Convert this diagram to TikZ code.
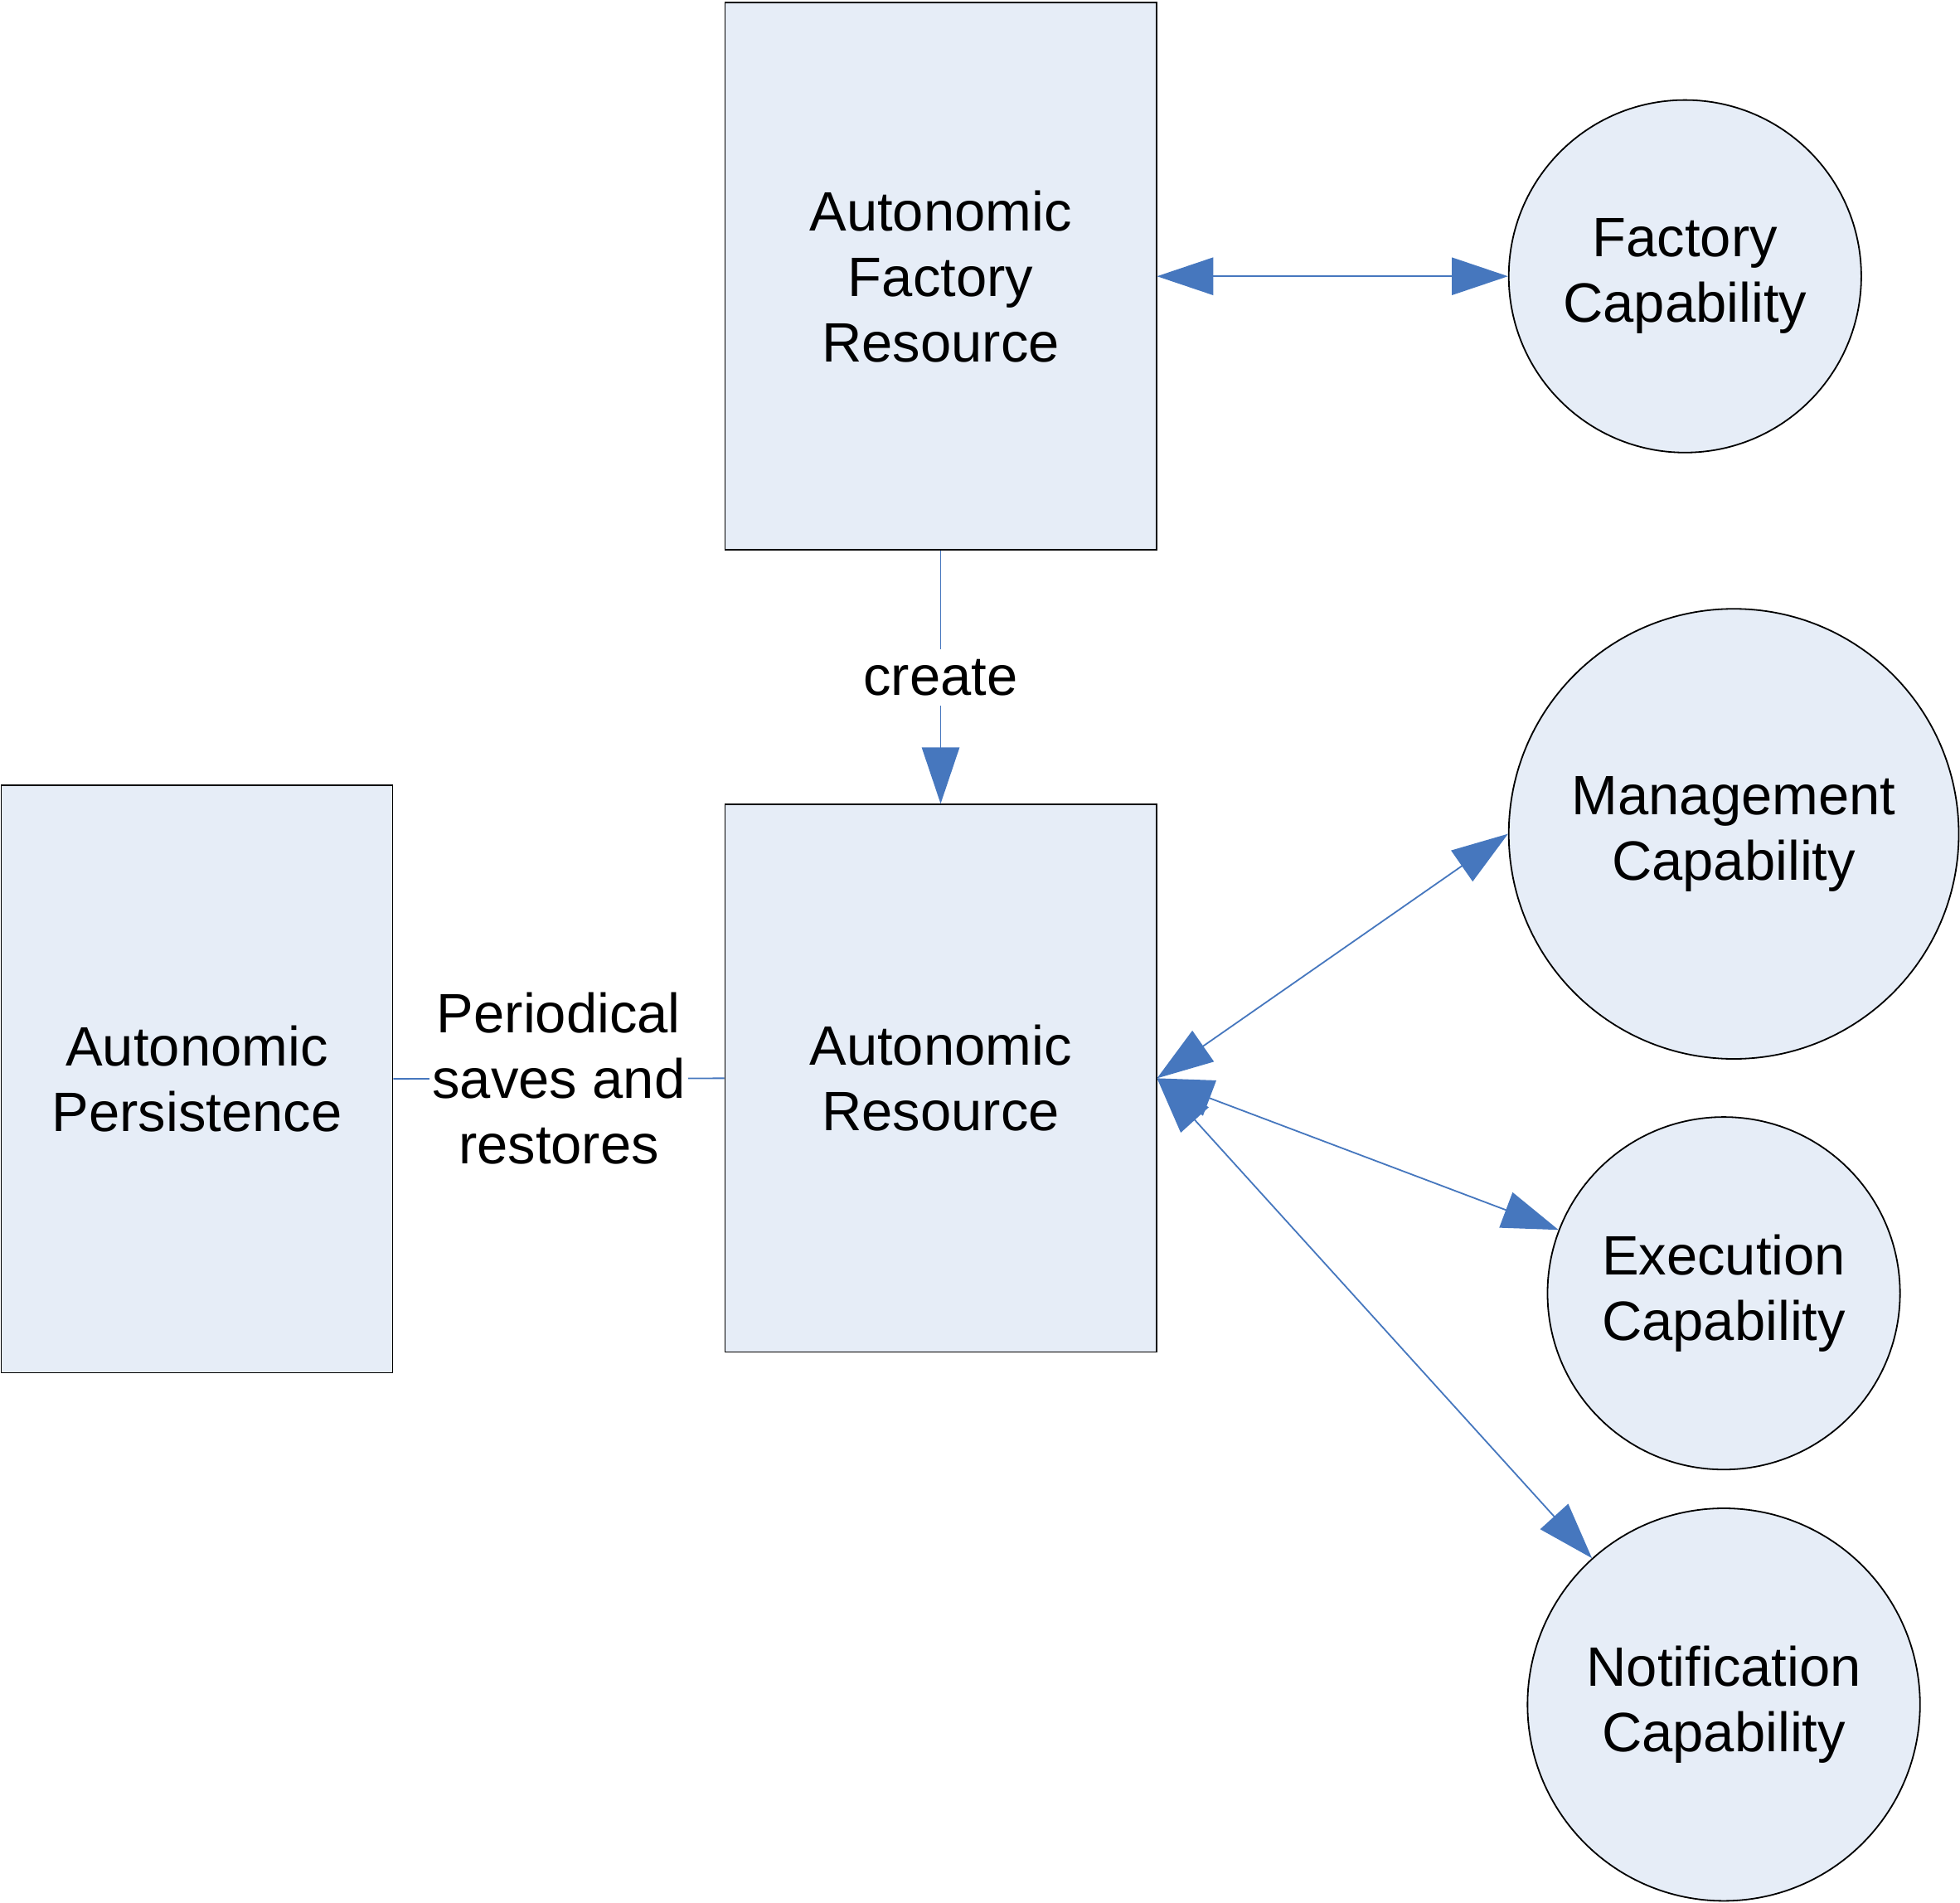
\documentclass[tikz,border=0pt]{standalone}
\usepackage{fontspec}
\setmainfont{Liberation Sans}
\usetikzlibrary{arrows.meta}
\definecolor{boxfill}{RGB}{230,237,247}
\definecolor{linkblue}{RGB}{70,119,190}
\tikzset{
  resource/.style={draw=black, line width=0.6pt, fill=boxfill, rectangle, align=center,
    minimum width=172.5pt, minimum height=219pt, inner sep=0pt},
  capability/.style={draw=black, line width=0.6pt, fill=boxfill, circle, align=center, inner sep=0pt},
  link/.style={draw=linkblue, line width=0.6pt},
  onearrow/.style={-{Triangle[length=22.5pt,width=15pt,fill=linkblue]}},
  twoway/.style={{Triangle[length=22.5pt,width=15pt,fill=linkblue]}-{Triangle[length=22.5pt,width=15pt,fill=linkblue]}},
  tag/.style={fill=white, align=center, inner xsep=1pt, inner ysep=4pt}
}

\begin{document}
\begin{tikzpicture}[x=0.5pt, y=-0.5pt, every node/.style={font=\fontsize{22.2pt}{26.2pt}\selectfont}]
	%%%%% FRAME %%%%%
	\useasboundingbox (0, 0) rectangle (1568, 1522);
	
	%%%%% RESOURCES %%%%%
	\node[resource] (afr) at (752.5, 221) {Autonomic\\Factory\\Resource};
	\node[resource] (ar) at (752.5, 862.5) {Autonomic\\Resource};
	\node[resource, minimum width=156.5pt, minimum height=235pt] (ap) at (157.5, 863) {Autonomic\\Persistence};
	
	%%%%% CAPABILITIES %%%%%
	\node[capability, minimum size=141pt] (fc) at (1348, 221) {Factory\\Capability};
	\node[capability, minimum size=180pt] (mc) at (1387, 667) {Management\\Capability};
	\node[capability, minimum size=141pt] (ec) at (1379, 1034.5) {Execution\\Capability};
	\node[capability, minimum size=157pt] (nc) at (1379, 1363.5) {Notification\\Capability};
	
	%%%%% LINKS %%%%%
	\draw[link, twoway] (afr.east) -- (fc.west);
	\draw[link, onearrow] (afr.south) -- node[tag] {create} (ar.north);
	\draw[link] (ap.east) -- node[tag] {Periodical\\saves and\\restores} (ar.west);
	\draw[link, twoway] (ar.east) -- (mc.180);
	\draw[link, twoway] (ar.east) -- (ec.159);
	\draw[link, twoway] (ar.east) -- (nc.132);
\end{tikzpicture}
\end{document}
